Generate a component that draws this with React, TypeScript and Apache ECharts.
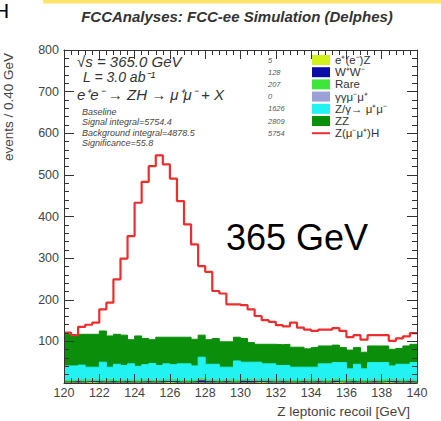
import { useEffect, useRef } from "react";
import * as echarts from "echarts";

// Histogram binning: 50 bins of 0.40 GeV between 120 and 140 GeV
const X_MIN = 120;
const X_MAX = 140;
const BIN_WIDTH = 0.4;

// Events per bin, per process (stack order: bottom -> top)
const eeZ = [0, 0, 0, 1, 0, 0, 0, 0, 0, 0, 0, 0, 0, 0, 1, 0, 0, 0, 0, 0, 0, 0, 0, 0, 0, 0, 0, 1, 0, 0, 0, 0, 0, 0, 0, 0, 0, 0, 1, 0, 0, 0, 0, 0, 0, 1, 0, 0, 0, 0];
const ww = [2, 3, 2, 2, 3, 2, 3, 2, 3, 2, 2, 3, 2, 3, 2, 3, 2, 2, 3, 5, 3, 2, 3, 2, 2, 4, 3, 2, 3, 2, 3, 2, 2, 3, 2, 3, 2, 2, 3, 2, 3, 2, 2, 3, 2, 2, 3, 2, 3, 2];
const rare = [4, 4, 5, 4, 4, 4, 5, 4, 4, 4, 5, 4, 4, 4, 4, 5, 4, 4, 4, 5, 4, 4, 4, 5, 4, 4, 4, 4, 4, 5, 4, 4, 4, 4, 5, 4, 4, 4, 4, 4, 5, 4, 4, 4, 4, 5, 4, 4, 4, 4];
const ggMuMu = [0, 0, 0, 0, 0, 0, 0, 0, 0, 0, 0, 0, 0, 0, 0, 0, 0, 0, 0, 0, 0, 0, 0, 0, 0, 0, 0, 0, 0, 0, 0, 0, 0, 0, 0, 0, 0, 0, 0, 0, 0, 0, 0, 0, 0, 0, 0, 0, 0, 0];
const zGamma = [35, 34, 36, 31, 31, 44, 30, 39, 35, 40, 33, 37, 41, 35, 39, 36, 40, 40, 34, 52, 38, 39, 31, 31, 47, 42, 43, 43, 39, 39, 35, 36, 32, 31, 31, 31, 40, 40, 41, 43, 26, 39, 28, 42, 43, 41, 34, 39, 38, 43];
const zz = [76, 72, 74, 79, 79, 75, 75, 72, 73, 58, 73, 63, 57, 68, 64, 66, 64, 64, 64, 53, 59, 62, 61, 61, 57, 57, 47, 43, 47, 47, 50, 51, 48, 48, 44, 47, 43, 43, 42, 36, 45, 40, 40, 40, 40, 40, 40, 38, 44, 44];
const zh = [4, 2, 18, 23, 28, 52, 80, 132, 184, 249, 320, 376, 417, 437, 415, 381, 327, 271, 228, 166, 163, 114, 116, 90, 79, 80, 80, 68, 58, 54, 47, 43, 59, 47, 46, 40, 39, 39, 41, 40, 31, 30, 30, 26, 26, 26, 20, 24, 23, 27];

// Legend entries, top -> bottom, with the quoted yields
const legendNames = ["e⁺(e⁻)Z", "W⁺W⁻", "Rare", "γγμ⁻μ⁺", "Z/γ→ μ⁺μ⁻", "ZZ", "Z(μ⁻μ⁺)H"];
const legendYields = ["5", "128", "207", "0", "1626", "2809", "5754"];
const infoLines = ["Baseline", "Signal integral=5754.4", "Background integral=4878.5", "Significance=55.8"];

const COLORS = {
  eeZ: "#d2f01a",
  ww: "#0b0ba6",
  rare: "#3fe63a",
  ggMuMu: "#9ba0d6",
  zGamma: "#22f2f2",
  zz: "#0b8f0b",
  zh: "#ee2e2e",
};

const FONT = "'Liberation Sans', Arial, Helvetica, sans-serif";

function toSteps(vals: number[]): number[][] {
  const pts = vals.map((v, i) => [X_MIN + i * BIN_WIDTH, v]);
  pts.push([X_MAX, vals[vals.length - 1]]);
  return pts;
}

export default function App() {
  const ref = useRef<HTMLDivElement>(null);

  useEffect(() => {
    if (!ref.current) return;
    const chart = echarts.init(ref.current, null, { renderer: "svg" });

    // cumulative stack
    const layers = [
      { key: "eeZ", data: eeZ, color: COLORS.eeZ },
      { key: "ww", data: ww, color: COLORS.ww },
      { key: "rare", data: rare, color: COLORS.rare },
      { key: "ggMuMu", data: ggMuMu, color: COLORS.ggMuMu },
      { key: "zGamma", data: zGamma, color: COLORS.zGamma },
      { key: "zz", data: zz, color: COLORS.zz },
    ];
    const running = new Array(zz.length).fill(0);
    const cumulative = layers.map((l) => {
      const out = l.data.map((v, i) => (running[i] += v));
      return { ...l, cum: out.slice() };
    });
    const total = running.map((v, i) => v + zh[i]);

    const fillSeries = cumulative
      .slice()
      .reverse()
      .map((l) => ({
        type: "line",
        name: l.key,
        step: "end",
        symbol: "none",
        silent: true,
        data: toSteps(l.cum),
        lineStyle: { color: l.color, width: 1 },
        areaStyle: { color: l.color, opacity: 1 },
        z: 2,
      }));

    const tickLine = { color: "#333", width: 1 };
    const axisLine = { show: true, onZero: false, lineStyle: tickLine };
    const xBase = {
      type: "value",
      min: X_MIN,
      max: X_MAX,
      interval: 2,
      z: 5,
      axisLine,
      axisTick: { show: true, inside: true, length: 9, lineStyle: tickLine },
      minorTick: { show: true, splitNumber: 5, length: 5, lineStyle: tickLine },
      splitLine: { show: false },
      minorSplitLine: { show: false },
    };
    const yBase = {
      type: "value",
      min: 0,
      max: 800,
      interval: 100,
      z: 5,
      axisLine,
      axisTick: { show: true, inside: true, length: 10, lineStyle: tickLine },
      minorTick: { show: true, splitNumber: 5, length: 5, lineStyle: tickLine },
      splitLine: { show: false },
      minorSplitLine: { show: false },
    };

    const rowY0 = 60;
    const rowStep = 12.2;
    const legendColors = [COLORS.eeZ, COLORS.ww, COLORS.rare, COLORS.ggMuMu, COLORS.zGamma, COLORS.zz, COLORS.zh];
    const legendGraphics: any[] = [];
    legendNames.forEach((name, i) => {
      const y = rowY0 + i * rowStep;
      legendGraphics.push({
        type: "text",
        x: 268,
        y,
        silent: true,
        style: { text: legendYields[i], fontSize: 7.5, fontStyle: "italic", fill: "#555", fontFamily: FONT, verticalAlign: "middle" },
      });
      if (i === legendNames.length - 1) {
        legendGraphics.push({
          type: "line",
          silent: true,
          shape: { x1: 312, y1: y, x2: 330, y2: y },
          style: { stroke: legendColors[i], lineWidth: 2 },
        });
      } else {
        legendGraphics.push({
          type: "rect",
          silent: true,
          shape: { x: 312, y: y - 5, width: 18, height: 10 },
          style: { fill: legendColors[i] },
        });
      }
      legendGraphics.push({
        type: "text",
        x: 335,
        y,
        silent: true,
        style: { text: name, fontSize: 11.5, fill: "#333", fontFamily: FONT, verticalAlign: "middle" },
      });
    });

    const infoGraphics = infoLines.map((t, i) => ({
      type: "text",
      x: 82,
      y: 112 + i * 10.3,
      silent: true,
      style: { text: t, fontSize: 9, fontStyle: "italic", fill: "#444", fontFamily: FONT, verticalAlign: "middle" },
    }));

    const option: any = {
      animation: false,
      backgroundColor: "#fff",
      grid: { left: 64, right: 24, top: 50, bottom: 38 },
      xAxis: [
        {
          ...xBase,
          position: "bottom",
          axisLabel: { show: true, margin: 3, fontSize: 12.5, color: "#444", fontFamily: FONT },
        },
        { ...xBase, position: "top", axisLabel: { show: false } },
      ],
      yAxis: [
        {
          ...yBase,
          position: "left",
          axisLabel: {
            show: true,
            margin: 5,
            fontSize: 12.5,
            color: "#444",
            fontFamily: FONT,
            formatter: (v: number) => (v > 0 && v % 100 === 0 ? String(v) : ""),
          },
        },
        { ...yBase, position: "right", axisLabel: { show: false } },
      ],
      series: [
        ...fillSeries,
        {
          type: "line",
          name: "zh",
          step: "end",
          symbol: "none",
          silent: true,
          data: toSteps(total),
          lineStyle: { color: COLORS.zh, width: 2.2 },
          z: 3,
        },
      ],
      graphic: [
        { type: "rect", silent: true, shape: { x: 43, y: 0, width: 398, height: 3.5 }, style: { fill: "#fde36b" } },
        { type: "text", x: -6, y: 10, silent: true, style: { text: "H", fontSize: 21, fill: "#000", fontFamily: FONT, verticalAlign: "middle" } },
        {
          type: "text",
          x: 237,
          y: 16,
          silent: true,
          style: {
            text: "FCCAnalyses: FCC-ee Simulation (Delphes)",
            fontSize: 15,
            fontWeight: "bold",
            fontStyle: "italic",
            fill: "#333",
            fontFamily: FONT,
            align: "center",
            verticalAlign: "middle",
          },
        },
        {
          type: "text",
          x: 8,
          y: 107,
          rotation: Math.PI / 2,
          silent: true,
          style: { text: "events / 0.40 GeV", fontSize: 13.5, fill: "#444", fontFamily: FONT, align: "center", verticalAlign: "middle" },
        },
        {
          type: "text",
          x: 410,
          y: 411,
          silent: true,
          style: { text: "Z leptonic recoil [GeV]", fontSize: 13.5, fill: "#444", fontFamily: FONT, align: "right", verticalAlign: "middle" },
        },
        { type: "text", x: 77, y: 61, silent: true, style: { text: "√s = 365.0 GeV", fontSize: 15, fontStyle: "italic", fill: "#333", fontFamily: FONT, verticalAlign: "middle" } },
        { type: "text", x: 83, y: 77, silent: true, style: { text: "L = 3.0 ab⁻¹", fontSize: 14, fontStyle: "italic", fill: "#333", fontFamily: FONT, verticalAlign: "middle" } },
        { type: "text", x: 77, y: 94, silent: true, style: { text: "e⁺e⁻ → ZH → μ⁺μ⁻ + X", fontSize: 15, fontStyle: "italic", fill: "#333", fontFamily: FONT, verticalAlign: "middle" } },
        ...infoGraphics,
        ...legendGraphics,
        { type: "text", x: 226, y: 237, silent: true, style: { text: "365 GeV", fontSize: 36, fill: "#000", fontFamily: FONT, verticalAlign: "middle" } },
      ],
    };

    chart.setOption(option);
    return () => chart.dispose();
  }, []);

  return (
    <div
      ref={ref}
      style={{ position: "fixed", left: 0, top: 0, width: 441, height: 421, background: "#fff" }}
    />
  );
}
